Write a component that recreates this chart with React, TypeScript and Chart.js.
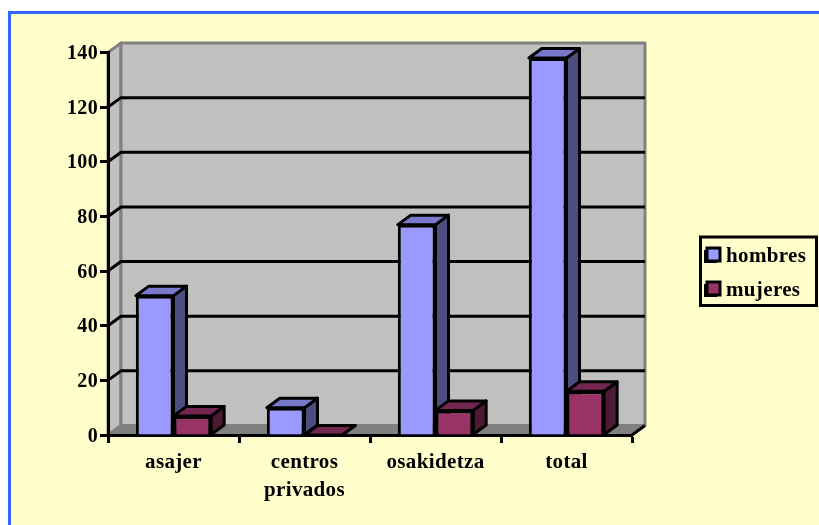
import React, { useEffect, useRef } from "react";
import { Chart, registerables } from "chart.js";

Chart.register(...registerables);

const categories = ["asajer", ["centros", "privados"], "osakidetza", "total"];
const hombres = [51, 10, 77, 138];
const mujeres = [7, 0, 9, 16];
const yTicks = [0, 20, 40, 60, 80, 100, 120, 140];

const DX = 13;
const DY = 9.5;
const FONT = "'Liberation Serif', serif";

function face(ctx: CanvasRenderingContext2D, pts: number[][], fill: string, stroke: string, lw: number) {
  ctx.beginPath();
  pts.forEach((p, i) => (i ? ctx.lineTo(p[0], p[1]) : ctx.moveTo(p[0], p[1])));
  ctx.closePath();
  ctx.fillStyle = fill;
  ctx.fill();
  ctx.strokeStyle = stroke;
  ctx.lineWidth = lw;
  ctx.lineJoin = "round";
  ctx.stroke();
}

const shades = [
  { top: "#7979CC", side: "#4D4D80" },
  { top: "#732650", side: "#4D1A33" },
];

const walls3d = {
  id: "walls3d",
  beforeDraw(chart: any) {
    const { ctx, chartArea: a, scales } = chart;
    const y = scales.y;
    (ctx as any).letterSpacing = "0.35px";
    ctx.save();
    face(ctx, [[a.left, a.bottom], [a.left, a.top], [a.left + DX, a.top - DY], [a.left + DX, a.bottom - DY]], "#C0C0C0", "#808080", 3);
    face(ctx, [[a.left + DX, a.top - DY], [a.right + DX, a.top - DY], [a.right + DX, a.bottom - DY], [a.left + DX, a.bottom - DY]], "#C0C0C0", "#808080", 3);
    face(ctx, [[a.left, a.bottom], [a.left + DX, a.bottom - DY], [a.right + DX, a.bottom - DY], [a.right, a.bottom]], "#808080", "#808080", 1);
    ctx.strokeStyle = "#000";
    ctx.lineWidth = 3;
    yTicks.forEach((v) => {
      const py = y.getPixelForValue(v);
      if (v !== 140 && v !== 0) {
        ctx.beginPath();
        ctx.moveTo(a.left, py);
        ctx.lineTo(a.left + DX, py - DY);
        ctx.lineTo(a.right + DX, py - DY);
        ctx.stroke();
      }
    });
    ctx.beginPath();
    ctx.moveTo(a.right, a.bottom);
    ctx.lineTo(a.right + DX, a.bottom - DY);
    ctx.stroke();
    ctx.restore();
  },
  beforeDatasetsDraw(chart: any) {
    const { ctx } = chart;
    ctx.save();
    chart.data.datasets.forEach((_: any, di: number) => {
      chart.getDatasetMeta(di).data.forEach((bar: any) => {
        const p = bar.getProps(["x", "y", "base", "width"], true);
        const l = p.x - p.width / 2;
        const r = p.x + p.width / 2;
        const { top, side } = shades[di];
        face(ctx, [[r, p.base], [r, p.y], [r + DX, p.y - DY], [r + DX, p.base - DY]], side, "#000", 3);
        face(ctx, [[l, p.y], [r, p.y], [r + DX, p.y - DY], [l + DX, p.y - DY]], top, "#000", 3);
      });
    });
    ctx.restore();
  },
  afterLayout(chart: any) {
    const lg = chart.legend;
    lg.left = 692.5;
    lg.right = 818;
    lg.top = 233;
    lg.bottom = 332;
    lg.width = 125.5;
    lg.height = 99;
    lg.adjustHitBoxes();
  },
  afterDraw(chart: any) {
    const { ctx } = chart;
    ctx.save();
    ctx.strokeStyle = "#000";
    ctx.lineWidth = 3;
    ctx.strokeRect(700.5, 237, 116, 68.5);
    chart.data.datasets.forEach((d: any, i: number) => {
      ctx.fillStyle = d.backgroundColor;
      ctx.fillRect(707, 248 + i * 34, 13, 13);
      ctx.strokeRect(707, 248 + i * 34, 13, 13);
    });
    ctx.restore();
  },
};

export default function App() {
  const ref = useRef<HTMLCanvasElement>(null);
  useEffect(() => {
    const chart = new Chart(ref.current as HTMLCanvasElement, {
      type: "bar",
      data: {
        labels: categories as any,
        datasets: [
          { label: "hombres", data: hombres, backgroundColor: "#9999FF", borderColor: "#000", borderWidth: 3, categoryPercentage: 0.575, barPercentage: 1 },
          { label: "mujeres", data: mujeres, backgroundColor: "#993366", borderColor: "#000", borderWidth: 3, categoryPercentage: 0.575, barPercentage: 1 },
        ],
      },
      options: {
        responsive: false,
        animation: false,
        devicePixelRatio: 1,
        layout: { padding: { left: 0, top: 52.5, right: 187, bottom: 0 } },
        plugins: {
          tooltip: { enabled: false },
          title: { display: false },
          legend: {
            position: "chartArea" as any,
            align: "start",
            labels: {
              color: "#000",
              font: { family: FONT, size: 21, weight: "bold" },
              boxWidth: 10,
              boxHeight: 10,
              padding: 13,
            },
          },
        },
        scales: {
          x: {
            afterFit(s: any) { s.height = 90; },
            grid: { drawOnChartArea: false, drawTicks: true, tickLength: 8, tickWidth: 3, tickColor: "#000", offset: true },
            border: { display: true, color: "#000", width: 3 },
            ticks: {
              color: "#000",
              padding: 6,
              maxRotation: 0,
              autoSkip: false,
              font: { family: FONT, size: 21, weight: "bold", lineHeight: 1.33 },
            },
          },
          y: {
            min: 0,
            max: 140,
            afterFit(s: any) { s.width = 108; },
            grid: { drawOnChartArea: false, drawTicks: true, tickLength: 8, tickWidth: 3, tickColor: "#000" },
            border: { display: true, color: "#000", width: 3 },
            ticks: {
              stepSize: 20,
              color: "#000",
              padding: 2,
              labelOffset: 1.5,
              font: { family: FONT, size: 20, weight: "bold" },
            },
          },
        },
      },
      plugins: [walls3d],
    } as any);
    return () => chart.destroy();
  }, []);
  return (
    <div style={{ position: "fixed", left: 0, top: 0, width: 819, height: 525, overflow: "hidden", background: "#fff" }}>
      <div style={{ position: "absolute", left: 8, top: 11, width: 900, height: 600, background: "#FFFFCC", border: "3px solid #3366FF", boxSizing: "border-box" }} />
      <canvas ref={ref} width={819} height={525} style={{ position: "absolute", left: 0, top: 0, display: "block" }} />
    </div>
  );
}
